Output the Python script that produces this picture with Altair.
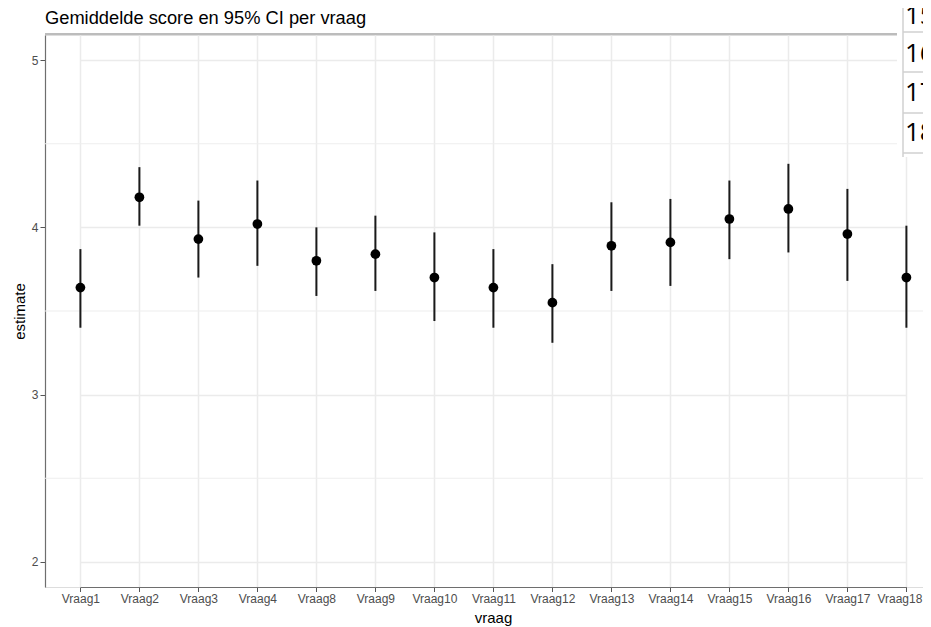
import altair as alt
import pandas as pd

questions = ["Vraag1", "Vraag2", "Vraag3", "Vraag4", "Vraag8", "Vraag9", "Vraag10",
             "Vraag11", "Vraag12", "Vraag13", "Vraag14", "Vraag15", "Vraag16",
             "Vraag17", "Vraag18"]
estimate = [3.64, 4.18, 3.93, 4.02, 3.80, 3.84, 3.70, 3.64, 3.55, 3.89, 3.91, 4.05, 4.11, 3.96, 3.70]
ci_low = [3.40, 4.01, 3.70, 3.77, 3.59, 3.62, 3.44, 3.40, 3.31, 3.62, 3.65, 3.81, 3.85, 3.68, 3.40]
ci_high = [3.87, 4.36, 4.16, 4.28, 4.00, 4.07, 3.97, 3.87, 3.78, 4.15, 4.17, 4.28, 4.38, 4.23, 4.01]
y_ticks = [2, 3, 4, 5]
minor_ticks = [2.5, 3.5, 4.5]
table_rows = ["15", "16", "17", "18"]
chart_title = "Gemiddelde score en 95% CI per vraag"

df = pd.DataFrame({"vraag": questions, "estimate": estimate, "low": ci_low, "high": ci_high})
minor_df = pd.DataFrame({"v": minor_ticks})
one = pd.DataFrame({"a": [0]})

W, H = 878, 552
FONT = "Liberation Sans"

xscale = alt.Scale(type="point", domain=questions, range=[35.4, 861.4], padding=0)
yscale = alt.Scale(domain=[1.85, 5.15], nice=False, zero=False)

xaxis = alt.Axis(title="vraag", labelAngle=0, labelFontSize=12, labelColor="#4d4d4d",
                 labelFont=FONT, tickColor="#555555", tickSize=4.5, labelPadding=2,
                 labelOffset={"condition": {"test": "datum.value === 'Vraag18'", "value": -7},
                              "value": 0},
                 domainColor="#6e6e6e", domainWidth=1.2, grid=True, gridColor="#ebebeb",
                 gridWidth=1.5, titleFontSize=15, titleFontWeight="normal", titleColor="black",
                 titleFont=FONT, titleX=448, titleY=30, titleBaseline="middle", titleAlign="center")
yaxis = alt.Axis(values=y_ticks, title="estimate", labelFontSize=12, labelColor="#4d4d4d",
                 labelFont=FONT, tickColor="#555555", tickSize=5, labelPadding=2,
                 domainColor="#6e6e6e", domainWidth=1.2, grid=True, gridColor="#ebebeb",
                 gridWidth=1.5, titleFontSize=15, titleFontWeight="normal", titleColor="black",
                 titleFont=FONT, titleX=-26, titleY=276, titleBaseline="middle",
                 titleAlign="center", titleAngle=-90)

base = alt.Chart(df)

minor = alt.Chart(minor_df).mark_rule(color="#eeeeee", strokeWidth=1.2).encode(
    y=alt.Y("v:Q", scale=yscale, axis=yaxis)
)

ci = base.mark_rule(color="#1a1a1a", strokeWidth=2).encode(
    x=alt.X("vraag:N", scale=xscale, axis=xaxis, sort=questions),
    y=alt.Y("low:Q", scale=yscale, axis=yaxis),
    y2="high:Q",
)

pts = base.mark_circle(size=95, color="black", opacity=1).encode(
    x=alt.X("vraag:N", scale=xscale, axis=xaxis, sort=questions),
    y=alt.Y("estimate:Q", scale=yscale, axis=yaxis),
)

top_rule = alt.Chart(one).mark_rule(color="#a6a6a6", strokeWidth=1.5).encode(
    y=alt.value(-1), x=alt.value(0), x2=alt.value(W)
)

title_text = alt.Chart(one).mark_text(align="left", baseline="alphabetic", fontSize=18.3,
                                      font=FONT, color="black").encode(
    x=alt.value(0), y=alt.value(-11), text=alt.value(chart_title)
)

# overlaid table fragment (top right corner of the screenshot)
white = alt.Chart(one).mark_rect(color="white").encode(
    x=alt.value(852), x2=alt.value(W + 2), y=alt.value(-30), y2=alt.value(122)
)
layers = [minor, ci, pts, top_rule, title_text, white]
vline = alt.Chart(one).mark_rule(color="#d0d0d0", strokeWidth=1.5).encode(
    x=alt.value(858), y=alt.value(-30), y2=alt.value(122)
)
layers.append(vline)
line_pos = [-3, 37, 78, 118]
text_pos = [-19, 19, 58, 98]
for i, lab in enumerate(table_rows):
    layers.append(alt.Chart(one).mark_rule(color="#d0d0d0", strokeWidth=1.5).encode(
        x=alt.value(858), x2=alt.value(W + 2), y=alt.value(line_pos[i])))
    layers.append(alt.Chart(one).mark_text(align="left", baseline="middle", fontSize=26,
                                           font="Open Sans", color="black").encode(
        x=alt.value(860), y=alt.value(text_pos[i]), text=alt.value(lab)))

chart = alt.layer(*layers).properties(
    width=W, height=H,
    autosize=alt.AutoSizeParams(type="none"),
    padding={"left": 37, "top": 27, "right": 0, "bottom": 40},
).configure_view(stroke="transparent").configure(background="white")

chart.save("out.html", embed_options={"renderer": "svg", "actions": False})
